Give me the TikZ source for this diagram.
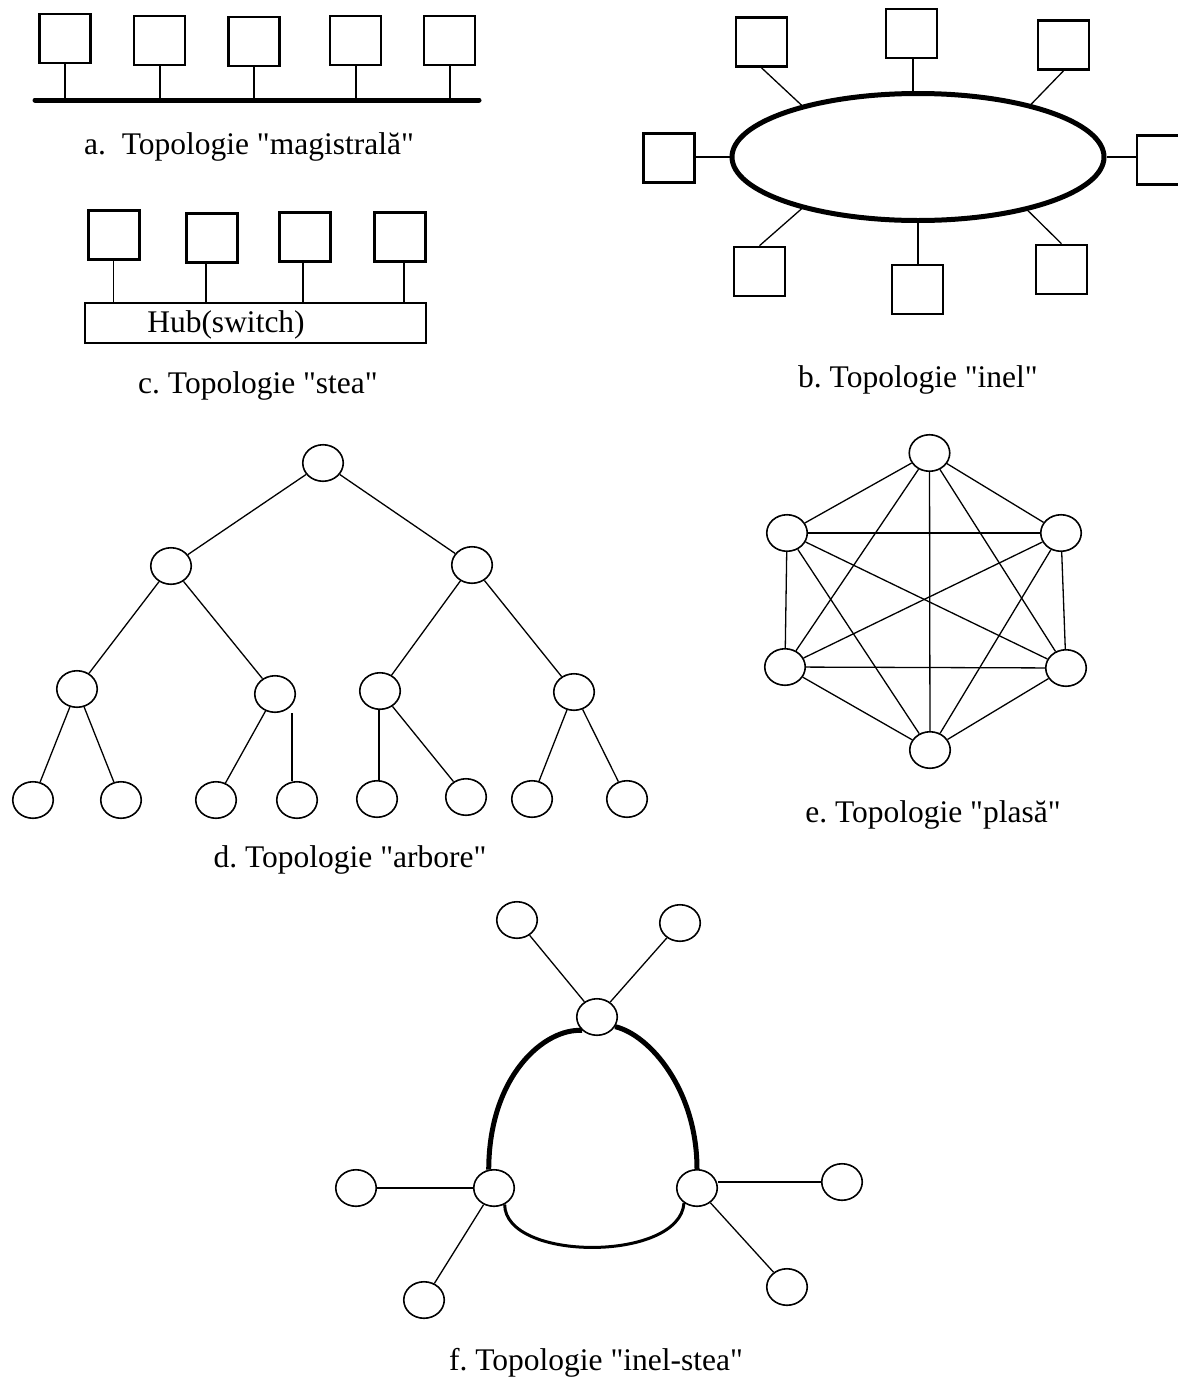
\documentclass[tikz,border=0pt]{standalone}
\usepackage{fontspec}
\setmainfont{Liberation Serif}[Ligatures=TeXOff]
\usetikzlibrary{shapes.geometric}
\frenchspacing
\begin{document}
\begin{tikzpicture}[x=1pt,y=-1pt,
  pcbox/.style={draw, rectangle, line width=2.6pt, minimum width=51pt, minimum height=49pt, inner sep=0pt},
  hubbox/.style={draw, rectangle, line width=1.2pt, minimum width=341pt, minimum height=40pt, inner sep=0pt},
  nd/.style={draw, ellipse, line width=1.6pt, minimum width=40.5pt, minimum height=36.5pt, inner sep=0pt},
  wire/.style={line width=1.3pt},
  busline/.style={line width=5pt, line cap=round},
  ringline/.style={line width=5pt},
  captxt/.style={anchor=base, inner sep=0pt, font=\fontsize{31.5}{36}\selectfont}]
\useasboundingbox (0,0) rectangle (1178,1382);

% ---------- a. bus ----------
\node[pcbox] (a1) at (65,38.5) {};
\node[pcbox] (a2) at (159.5,40.5) {};
\node[pcbox] (a3) at (254,41.5) {};
\node[pcbox] (a4) at (355.5,40.5) {};
\node[pcbox] (a5) at (449.5,40.5) {};
\coordinate (busL) at (35,100);
\coordinate (busR) at (479,100);
\draw[busline] (busL) -- (busR);
\foreach \n in {a1,a2,a3,a4,a5}
  \draw[line width=2pt] (\n.south) -- (\n.south |- busL);
\node[captxt] (capa) at (249,154) {a.~~Topologie "magistrală"};

% ---------- b. ring ----------
\node[draw, ellipse, ringline, minimum width=372pt, minimum height=127pt, inner sep=0pt] (R) at (918,157) {};
\node[pcbox] (b1) at (761.5,42) {};
\node[pcbox] (b2) at (911.5,33.5) {};
\node[pcbox] (b3) at (1063.5,45) {};
\node[pcbox] (b4) at (669,158) {};
\node[pcbox] (b5) at (1162.5,160) {};
\node[pcbox] (b6) at (759.5,271.5) {};
\node[pcbox] (b7) at (917.5,289.5) {};
\node[pcbox] (b8) at (1061.5,269.5) {};
\draw[wire] (b1.south) -- (R.156);
\draw[wire] ([xshift=1.5pt]b2.south) -- ([xshift=1.5pt]b2.south |- R.north);
\draw[wire] (b3.south) -- (R.25);
\draw[wire] (R.west) -- (R.west -| b4.east);
\draw[wire] (R.east) -- (R.east -| b5.west);
\draw[wire] (R.204) -- (b6.north);
\draw[wire] (R.south) -- (R.south |- b7.north);
\draw[wire] (R.334) -- (b8.north);
\node[captxt] (capb) at (918,387) {b. Topologie "inel"};

% ---------- c. star ----------
\node[pcbox, line width=3pt] (c1) at (113.5,234.5) {};
\node[pcbox, line width=3pt] (c2) at (212,237.5) {};
\node[pcbox, line width=3pt] (c3) at (304.5,237) {};
\node[pcbox, line width=3pt] (c4) at (399.5,237) {};
\node[hubbox] (H) at (255.5,323) {};
\node[captxt] (hubtxt) at (226,332) {Hub(switch)};
\foreach \n/\dx in {c1/0,c2/-6,c3/-1.5,c4/4.5}
  \draw[wire] ([xshift=\dx pt]\n.south) -- ([xshift=\dx pt]\n.south |- H.north);
\node[captxt] (capc) at (258,393) {c. Topologie "stea"};

% ---------- d. tree ----------
\node[nd] (r)  at (323,463) {};
\node[nd] (l)  at (171,566) {};
\node[nd] (rr) at (472,565) {};
\node[nd] (ll) at (77,689) {};
\node[nd] (lr) at (275,694) {};
\node[nd] (rl) at (380,691) {};
\node[nd] (rx) at (574,692) {};
\node[nd] (d1) at (33,800) {};
\node[nd] (d2) at (121,800) {};
\node[nd] (d3) at (216,800) {};
\node[nd] (d4) at (297,800) {};
\node[nd] (d5) at (377,799) {};
\node[nd] (d6) at (466,797) {};
\node[nd] (d7) at (532,799) {};
\node[nd] (d8) at (627,799) {};
\foreach \p/\q in {r/l, r/rr, l/ll, l/lr, rr/rl, rr/rx, ll/d1, ll/d2, lr/d3, rl/d6, rx/d7, rx/d8}
  \draw[wire] (\p) -- (\q);
\draw[wire] ([xshift=-5pt]d4.north) -- ([xshift=-5pt]d4.north |- lr.south);
\draw[wire] ([xshift=2pt]d5.north) -- ([xshift=2pt]d5.north |- rl.south);
\node[captxt] (capd) at (350,867) {d. Topologie "arbore"};

% ---------- e. mesh ----------
\node[nd] (m1) at (929.5,453) {};
\node[nd] (m2) at (787,533) {};
\node[nd] (m3) at (1061,533) {};
\node[nd] (m4) at (785,667) {};
\node[nd] (m5) at (1066,668) {};
\node[nd] (m6) at (930,750) {};
\foreach \p/\q in {m1/m2, m1/m3, m1/m4, m1/m5, m1/m6, m2/m3, m2/m4, m2/m5, m2/m6,
                   m3/m4, m3/m5, m3/m6, m4/m5, m4/m6, m5/m6}
  \draw[wire] (\p) -- (\q);
\node[captxt] (cape) at (933,822) {e. Topologie "plasă"};

% ---------- f. ring-star ----------
\node[nd] (ft) at (597,1017) {};
\node[nd] (tl) at (517,920) {};
\node[nd] (tr) at (680,923) {};
\node[nd] (fl) at (494,1188) {};
\node[nd] (fr) at (697,1188) {};
\node[nd] (xl) at (356,1188) {};
\node[nd] (xr) at (842,1182) {};
\node[nd] (ql) at (424,1300) {};
\node[nd] (qr) at (787,1287) {};
\draw[wire] (tl) -- (ft);
\draw[wire] (tr) -- (ft);
\draw[wire] (xl) -- (fl);
\draw[wire] (fr.east |- xr) -- (xr);
\draw[wire] (fl) -- (ql);
\draw[wire] (fr) -- (qr);
\draw[ringline] (ft.222) .. controls (545,1028) and (489,1075) .. (fl.106);
\draw[ringline] (ft.-28) .. controls (650,1035) and (697,1090) .. (fr.north);
\draw[line width=3pt] (fl.-57) .. controls (505,1262) and (680,1262) .. (fr.229);
\node[captxt] (capf) at (596,1370) {f. Topologie "inel-stea"};
\end{tikzpicture}
\end{document}
